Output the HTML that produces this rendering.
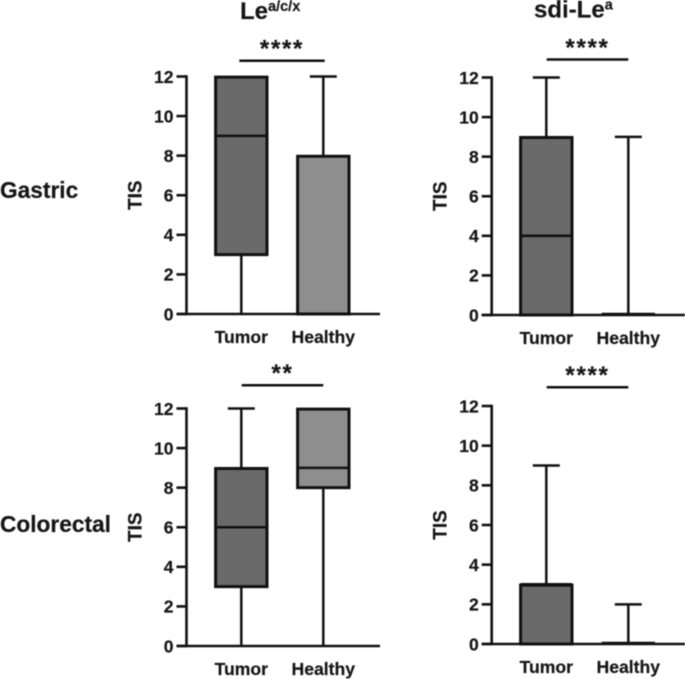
<!DOCTYPE html>
<html>
<head>
<meta charset="utf-8">
<title>TIS box plots</title>
<style>
html,body{margin:0;padding:0;background:#fff;width:685px;height:679px;overflow:hidden}
svg{display:block;filter:blur(.4px)}
text{font-family:"Liberation Sans",Arial,sans-serif;font-weight:700;fill:#161616;stroke:#161616;stroke-width:.2px}
</style>
</head>
<body>
<svg id="chart" xmlns="http://www.w3.org/2000/svg" width="685" height="679" viewBox="0 0 685 679">
<text x="240" y="19" font-size="24">Le<tspan font-size="14.5" dy="-8">a/c/x</tspan></text>
<text x="534" y="17.5" font-size="24">sdi-Le<tspan font-size="14.5" dy="-8">a</tspan></text>
<text x="0" y="198" font-size="22.7">Gastric</text>
<text x="0" y="532" font-size="22.7">Colorectal</text>
</svg>
<script>
var categories = ['Tumor', 'Healthy'];
var tickLabels = [0, 2, 4, 6, 8, 10, 12];
var statNames = ['min', 'q1', 'median', 'q3', 'max'];
var gastricLeTumor = [0, 3, 9, 12, 12];
var gastricLeHealthy = [0, 0, 0, 8, 12];
var gastricSdiTumor = [0, 0, 4, 9, 12];
var gastricSdiHealthy = [0, 0, 0, 0, 9];
var colorectalLeTumor = [0, 3, 6, 9, 12];
var colorectalLeHealthy = [0, 8, 9, 12, 12];
var colorectalSdiTumor = [0, 0, 3, 3, 9];
var colorectalSdiHealthy = [0, 0, 0, 0, 2];
var significance = ['****', '****', '**', '****'];

var svg = document.getElementById('chart');
var NS = 'http://www.w3.org/2000/svg';
var INK = '#111111';

function add(tag, attrs, parent) {
  var el = document.createElementNS(NS, tag);
  for (var k in attrs) el.setAttribute(k, attrs[k]);
  (parent || svg).appendChild(el);
  return el;
}
function line(x1, y1, x2, y2, w, parent) {
  return add('line', {x1: x1, y1: y1, x2: x2, y2: y2, stroke: INK, 'stroke-width': w}, parent);
}

var panels = [
  {key: 'gastric-le', axisX: 186.5, y0: 314, y12: 76.5, xEnd: 380, tumorX: 241.3, healthyX: 323.3, tumor: gastricLeTumor, healthy: gastricLeHealthy, sig: significance[0], barX1: 239.3, barX2: 324.7, barY: 60.7, sigY: 56.5},
  {key: 'gastric-sdi', axisX: 491.7, y0: 315, y12: 77.5, xEnd: 685, tumorX: 546.3, healthyX: 628.3, tumor: gastricSdiTumor, healthy: gastricSdiHealthy, sig: significance[1], barX1: 546.7, barX2: 628.3, barY: 59.5, sigY: 55.5},
  {key: 'colorectal-le', axisX: 186.5, y0: 646, y12: 408.5, xEnd: 380, tumorX: 241.3, healthyX: 323.3, tumor: colorectalLeTumor, healthy: colorectalLeHealthy, sig: significance[2], barX1: 241.7, barX2: 323.3, barY: 385.3, sigY: 381},
  {key: 'colorectal-sdi', axisX: 491.7, y0: 644, y12: 406, xEnd: 685, tumorX: 546.3, healthyX: 628.3, tumor: colorectalSdiTumor, healthy: colorectalSdiHealthy, sig: significance[3], barX1: 546.7, barX2: 628.3, barY: 387.3, sigY: 383}
];

function drawBox(p, stats, cx, fill, label, yScale) {
  var g = add('g', {});
  
  
  var halfBox = 25.7, halfCap = 13.5;
  var yMin = yScale(stats[0]), yQ1 = yScale(stats[1]), yMed = yScale(stats[2]), yQ3 = yScale(stats[3]), yMax = yScale(stats[4]);
  if (stats[4] > stats[3]) {
    line(cx, yMax, cx, yQ3, 2.5, g);
    line(cx - halfCap, yMax, cx + halfCap, yMax, 2.5, g);
  }
  if (stats[1] > stats[0]) {
    line(cx, yQ1, cx, yMin, 2.5, g);
  }
  if (stats[3] > stats[1]) {
    add('rect', {x: cx - halfBox, y: yQ3 + 0.6, width: halfBox * 2, height: yQ1 - yQ3 - 0.6, fill: fill, stroke: INK, 'stroke-width': 3}, g);
    var shift = stats[2] === stats[3] ? -0.2 : 0;
    line(cx - halfBox, yMed + shift, cx + halfBox, yMed + shift, 2.6, g);
  } else {
    line(cx - halfBox - 1, yMed - 1, cx + halfBox + 1, yMed - 1, 2.6, g);
  }
}

panels.forEach(function (p) {
  var yScale = function (v) { return p.y0 + (p.y12 - p.y0) * v / 12; };

  var plot = add('g', {});
  
  

  var yAxis = line(p.axisX, p.y12 - 1.2, p.axisX, p.y0 + 1.2, 2.6, plot);
  
  
  var xAxis = line(p.axisX - 10, p.y0, p.xEnd, p.y0, 2.6, plot);
  
  

  tickLabels.forEach(function (t) {
    var y = yScale(t);
    var tick = line(p.axisX - 10, y, p.axisX, y, 2.6, plot);
    
    
    var lab = add('text', {x: p.axisX - 13, y: y + 6.3, 'font-size': 17.5, 'text-anchor': 'end'}, plot);
    
    
    lab.textContent = t;
  });

  var yMid = (p.y0 + p.y12) / 2;
  var title = add('text', {x: 0, y: 0, 'font-size': 19, 'text-anchor': 'middle', transform: 'translate(' + (p.axisX - 45) + ',' + yMid + ') rotate(-90)'}, plot);
  
  
  title.textContent = 'TIS';

  var tumorLab = add('text', {x: p.tumorX, y: p.y0 + 29, 'font-size': 17.6, 'text-anchor': 'middle'}, plot);
  
  
  tumorLab.textContent = categories[0];
  var healthyLab = add('text', {x: p.healthyX, y: p.y0 + 29, 'font-size': 17.6, 'text-anchor': 'middle'}, plot);
  
  
  healthyLab.textContent = categories[1];

  drawBox(p, p.tumor, p.tumorX, '#6a6a6a', categories[0], yScale);
  drawBox(p, p.healthy, p.healthyX, '#8e8e8e', categories[1], yScale);

  var bar = line(p.barX1, p.barY, p.barX2, p.barY, 2.5, plot);
  
  
  var stars = add('text', {x: (p.barX1 + p.barX2) / 2, y: p.sigY, 'font-size': 24, 'text-anchor': 'middle', 'letter-spacing': 1.7}, plot);
  
  
  stars.textContent = p.sig;
});
</script>
</body>
</html>
